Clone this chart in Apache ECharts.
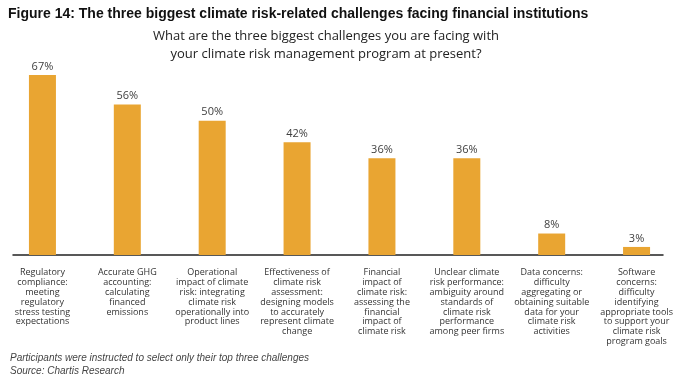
<!DOCTYPE html>
<html><head><meta charset="utf-8">
<script src="https://cdn.jsdelivr.net/npm/echarts@6/dist/echarts.min.js"></script>
<style>html,body{margin:0;padding:0;background:#fff}#c{width:691px;height:389px}</style>
</head><body><div id="c"></div>
<script>
const categories = [
  "Regulatory\ncompliance:\nmeeting\nregulatory\nstress testing\nexpectations",
  "Accurate GHG\naccounting:\ncalculating\nfinanced\nemissions",
  "Operational\nimpact of climate\nrisk: integrating\nclimate risk\noperationally into\nproduct lines",
  "Effectiveness of\nclimate risk\nassessment:\ndesigning models\nto accurately\nrepresent climate\nchange",
  "Financial\nimpact of\nclimate risk:\nassessing the\nfinancial\nimpact of\nclimate risk",
  "Unclear climate\nrisk performance:\nambiguity around\nstandards of\nclimate risk\nperformance\namong peer firms",
  "Data concerns:\ndifficulty\naggregating or\nobtaining suitable\ndata for your\nclimate risk\nactivities",
  "Software\nconcerns:\ndifficulty\nidentifying\nappropriate tools\nto support your\nclimate risk\nprogram goals"
];
const values = [67, 56, 50, 42, 36, 36, 8, 3];
const titleText = "Figure 14: The three biggest climate risk-related challenges facing financial institutions";
const subtitleText = "What are the three biggest challenges you are facing with\nyour climate risk management program at present?";
const footnoteText = "Participants were instructed to select only their top three challenges\nSource: Chartis Research";

const chart = echarts.init(document.getElementById('c'), null, {renderer: 'canvas'});
chart.setOption({
  animation: false,
  backgroundColor: '#fff',
  title: [
    {text: titleText, left: 8, top: 7, padding: 0,
     textStyle: {fontFamily: '"Liberation Sans Narrow","Liberation Sans",Arial', fontWeight: 'bold', fontSize: 14, color: '#111'}},
    {text: subtitleText, left: 326, top: 28, padding: 0, textAlign: 'center',
     textStyle: {fontFamily: '"Open Sans","Noto Sans",sans-serif', fontWeight: 'normal', fontSize: 13, lineHeight: 17.5, color: '#222'}},
    {text: footnoteText, left: 10, top: 352, padding: 0,
     textStyle: {fontFamily: '"Liberation Sans",Arial', fontStyle: 'italic', fontWeight: 'normal', fontSize: 10, lineHeight: 13, color: '#444'}}
  ],
  grid: [
    {left: 0, right: 12, top: 67, bottom: 134, containLabel: false},
    {left: 13, right: 28, top: 67, bottom: 134, containLabel: false}
  ],
  xAxis: [
    {type: 'category', gridIndex: 0, data: categories,
     axisLine: {show: false}, axisTick: {show: false},
     axisLabel: {interval: 0, margin: 13, fontFamily: '"Open Sans","Noto Sans",sans-serif', fontSize: 9, lineHeight: 9.8, color: '#333', verticalAlign: 'top'}},
    {type: 'category', gridIndex: 1, data: [''],
     axisLine: {show: true, lineStyle: {color: '#222', width: 1.5}}, axisTick: {show: false}, axisLabel: {show: false}}
  ],
  yAxis: [
    {type: 'value', gridIndex: 0, min: 0, max: 70, show: false, splitLine: {show: false}},
    {type: 'value', gridIndex: 1, min: 0, max: 70, show: false, splitLine: {show: false}}
  ],
  series: [{
    type: 'bar', xAxisIndex: 0, yAxisIndex: 0, data: values, barWidth: 27,
    itemStyle: {color: '#E9A532'},
    label: {show: true, position: 'top', distance: 3, formatter: '{c}%',
      fontFamily: '"Open Sans","Noto Sans",sans-serif', fontSize: 11, color: '#404040'}
  }]
});
</script></body></html>
